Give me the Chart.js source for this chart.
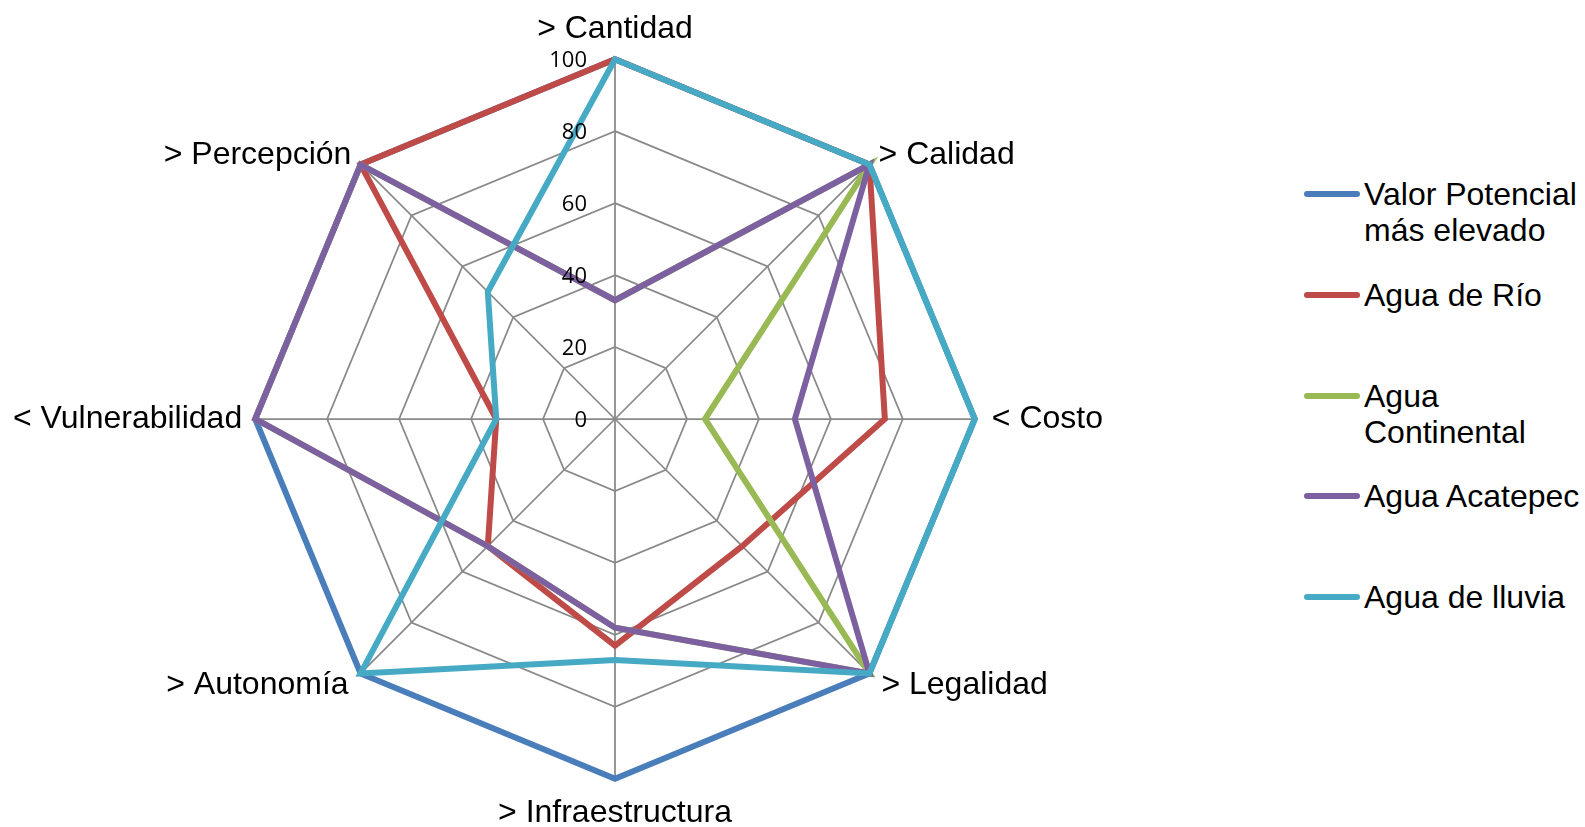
<!DOCTYPE html>
<html>
<head>
<meta charset="utf-8">
<script src="https://cdn.jsdelivr.net/npm/chart.js@4.4.0/dist/chart.umd.min.js"></script>
<style>
  html, body { margin: 0; padding: 0; background: #fff; }
  body { width: 1585px; height: 827px; position: relative; overflow: hidden; }
  #wrap { position: absolute; left: -13px; top: 8px; width: 1204px; height: 827px; }
  #legend { position: absolute; left: 0; top: 0; font-family: "Liberation Sans", Arial, sans-serif; font-size: 32px; color: #000; }
  .item { position: absolute; left: 1304px; }
  .swatch { position: absolute; left: 0; top: -3px; width: 56px; height: 6px; border-radius: 3px; }
  .txt { position: absolute; left: 60px; top: -18px; line-height: 36px; white-space: nowrap; }
</style>
</head>
<body>
<div id="wrap"><canvas id="radar"></canvas></div>
<div id="legend"></div>
<script>
// datos
const categorias = ["> Cantidad", "> Calidad", "< Costo", "> Legalidad", "> Infraestructura", "> Autonomía", "< Vulnerabilidad", "> Percepción"];
const ticksEje = [0, 20, 40, 60, 80, 100];
const valorPotencial = [100, 100, 100, 100, 100, 100, 100, 100];
const aguaRio = [100, 100, 75, 50, 63, 50, 33, 100];
const aguaContinental = [33, 100, 25, 100, 58, 50, 100, 100];
const aguaAcatepec = [33, 100, 50, 100, 58, 50, 100, 100];
const aguaLluvia = [100, 100, 100, 100, 67, 100, 33, 50];
const nombres = [["Valor Potencial", "más elevado"], ["Agua de Río"], ["Agua", "Continental"], ["Agua Acatepec"], ["Agua de lluvia"]];
const colores = ["#4A7EBB", "#BE4B48", "#98B954", "#7D60A0", "#46AAC5"];

const series = [valorPotencial, aguaRio, aguaContinental, aguaAcatepec, aguaLluvia];

// etiquetas del eje (incluye el 0, que chart.js no pinta)
const etiquetasEje = {
  id: "etiquetasEje",
  afterDatasetsDraw(chart) {
    const r = chart.scales.r;
    const c = chart.ctx;
    c.save();
    c.font = '22px "Open Sans"';
    c.fillStyle = "#000";
    c.textAlign = "right";
    c.textBaseline = "middle";
    ticksEje.forEach((v) => {
      const d = r.getDistanceFromCenterForValue(v);
      c.fillText(String(v), r.xCenter - 28, r.yCenter - d + 2);
    });
    c.restore();
  },
};

// separacion de cada etiqueta de categoria
const padLabels = [30, 13, 17, 17, 34, 17, 13, 13];

const myChart = new Chart(document.getElementById("radar").getContext("2d"), {
  type: "radar",
  data: {
    labels: categorias,
    datasets: series.map((s, i) => ({
      label: nombres[i].join(" "),
      data: s,
      borderColor: colores[i],
      backgroundColor: colores[i],
      borderWidth: 6,
      pointRadius: 0,
      pointHoverRadius: 0,
      fill: false,
      tension: 0,
      order: series.length - i,
    })),
  },
  options: {
    responsive: true,
    maintainAspectRatio: false,
    animation: false,
    plugins: {
      legend: { display: false },
      tooltip: { enabled: false },
    },
    scales: {
      r: {
        min: 0,
        max: 100,
        ticks: { stepSize: 20, display: false },
        grid: { color: "#898989", lineWidth: 1.75 },
        angleLines: { color: "#898989", lineWidth: 1.75 },
        pointLabels: {
          color: "#000",
          font: { family: "Liberation Sans", size: 32, lineHeight: 0.01 },
          padding: (ctx) => padLabels[ctx.index],
        },
      },
    },
  },
  plugins: [etiquetasEje],
});

// leyenda a mano, con el espaciado del original
const legendY = [194, 295, 396, 496, 597];
const legend = document.getElementById("legend");
nombres.forEach((lineas, i) => {
  const item = document.createElement("div");
  item.className = "item";
  item.style.top = legendY[i] + "px";
  item.innerHTML =
    '<div class="swatch" style="background:' + colores[i] + '"></div>' +
    '<div class="txt">' + lineas.join("<br>") + "</div>";
  legend.appendChild(item);
});
</script>
</body>
</html>
